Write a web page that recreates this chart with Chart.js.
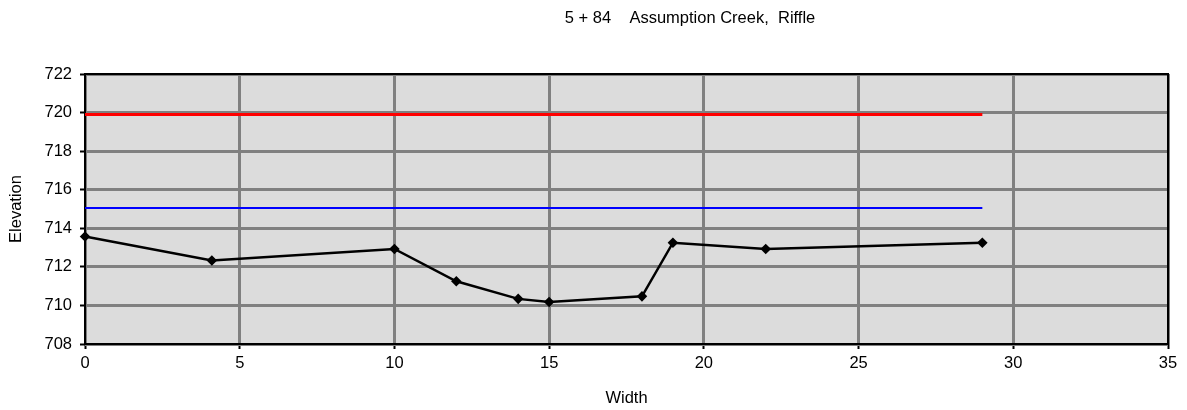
<!DOCTYPE html>
<html>
<head>
<meta charset="utf-8">
<script src="https://cdn.jsdelivr.net/npm/chart.js@4/dist/chart.umd.min.js"></script>
<style>
  html, body { margin: 0; padding: 0; background: #fff; }
  #wrap { width: 1187px; height: 410px; }
</style>
</head>
<body>
<div id="wrap"><canvas id="chart" width="1187" height="410"></canvas></div>
<script>
// dados do perfil (largura x elevação)
const groundWidth = [0, 4.1, 10, 12, 14, 15, 18, 19, 22, 29];
const groundElev = [713.57, 712.33, 712.93, 711.25, 710.34, 710.18, 710.47, 713.25, 712.93, 713.25];
const redWidth = [0, 29];
const redElev = [719.9, 719.9];
const blueWidth = [0, 29];
const blueElev = [715.05, 715.05];
const chartTitle = '5 + 84    Assumption Creek,  Riffle';
const xMin = 0, xMax = 35, xStep = 5;
const yMin = 708, yMax = 722, yStep = 2;

const toPoints = (xs, ys) => xs.map((x, i) => ({ x: x, y: ys[i] }));
const FONT = 'Liberation Sans, Arial, sans-serif';

// fundo cinza + moldura preta da área do gráfico
const plotFrame = {
  id: 'plotFrame',
  beforeDraw(chart) {
    const { ctx, chartArea: a } = chart;
    ctx.save();
    ctx.fillStyle = '#dcdcdc';
    ctx.fillRect(a.left, a.top, a.right - a.left, a.bottom - a.top);
    ctx.restore();
  },
  beforeDatasetsDraw(chart) {
    const { ctx, chartArea: a } = chart;
    ctx.save();
    ctx.strokeStyle = '#000';
    ctx.lineWidth = 2;
    ctx.strokeRect(a.left, a.top, a.right - a.left, a.bottom - a.top);
    ctx.restore();
  },
  afterDraw(chart) {
    // título centralizado como no original (deslocado para a direita)
    const ctx = chart.ctx;
    ctx.save();
    ctx.fillStyle = '#000';
    ctx.font = '16.5px ' + FONT;
    ctx.textAlign = 'center';
    ctx.textBaseline = 'middle';
    ctx.fillText(chartTitle, 690, 18);
    ctx.restore();
  }
};

new Chart(document.getElementById('chart'), {
  type: 'scatter',
  data: {
    datasets: [
      {
        label: 'Red',
        data: toPoints(redWidth, redElev),
        showLine: true,
        borderColor: '#ff0000',
        borderWidth: 3,
        pointRadius: 0
      },
      {
        label: 'Blue',
        data: toPoints(blueWidth, blueElev),
        showLine: true,
        borderColor: '#0000ff',
        borderWidth: 2,
        pointRadius: 0
      },
      {
        label: 'Ground',
        data: toPoints(groundWidth, groundElev),
        showLine: true,
        borderColor: '#000',
        backgroundColor: '#000',
        borderWidth: 2.5,
        pointStyle: 'rectRot',
        pointRadius: 3.5,
        tension: 0,
        clip: 6
      }
    ]
  },
  options: {
    responsive: false,
    animation: false,
    layout: { padding: { top: 74, right: 19, left: 0, bottom: 0 } },
    plugins: {
      legend: { display: false },
      title: { display: false },
      tooltip: { enabled: false }
    },
    scales: {
      x: {
        type: 'linear',
        min: xMin, max: xMax,
        ticks: { stepSize: xStep, color: '#000', font: { family: FONT, size: 16.5 }, padding: 5 },
        grid: { color: '#808080', lineWidth: 3, tickColor: '#000', tickLength: 5, tickWidth: 2 },
        border: { display: false },
        title: { display: true, text: 'Width', color: '#000', font: { family: FONT, size: 16.5 }, padding: { top: 4, bottom: 2 } },
        afterFit(s) { s.height = 66; }
      },
      y: {
        type: 'linear',
        min: yMin, max: yMax,
        ticks: { stepSize: yStep, color: '#000', font: { family: FONT, size: 16.5 }, padding: 8 },
        grid: { color: '#808080', lineWidth: 3, tickColor: '#000', tickLength: 5, tickWidth: 2 },
        border: { display: false },
        title: { display: true, text: 'Elevation', color: '#000', font: { family: FONT, size: 16.5 }, padding: { top: 7, bottom: 4 } },
        afterFit(s) { s.width = 85; }
      }
    }
  },
  plugins: [plotFrame]
});
</script>
</body>
</html>
